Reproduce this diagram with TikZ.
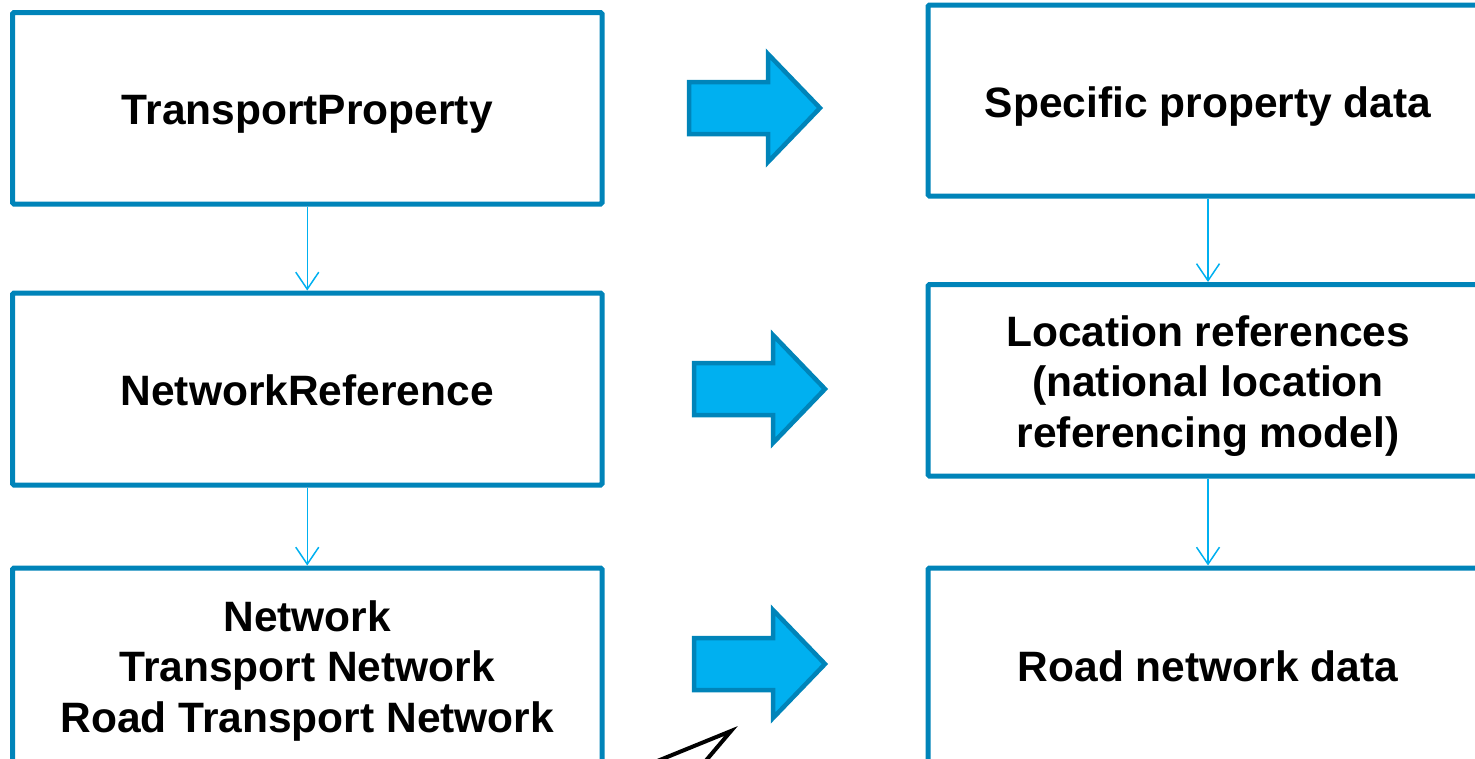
\documentclass[tikz,border=0pt]{standalone}
\usepackage{fontspec}
\setmainfont{Liberation Sans}
\usetikzlibrary{arrows.meta}
\definecolor{boxblue}{RGB}{0,132,185}
\definecolor{fillblue}{RGB}{0,176,240}
\newcommand{\topstrut}{\rule{0pt}{45pt}}
\newcommand{\botstrut}{\rule[-12pt]{0pt}{12pt}}
\tikzset{
  panel/.style={draw=boxblue, line width=5pt, fill=white, rounded corners=1.5pt,
    minimum width=589.5pt, align=center, inner sep=0pt,
    font=\fontsize{42.5}{50.5}\selectfont\bfseries},
  link/.style={draw=fillblue, line width=1.5pt,
    -{Straight Barb[length=17pt,width=23pt,line width=1.5pt]}},
  pics/blockarrow/.style={code={
    \draw[fill=fillblue, draw=boxblue, line width=4.5pt, miter limit=10]
      (0,-26) -- (79,-26) -- (79,-54) -- (131,0) -- (79,54) -- (79,26) -- (0,26) -- cycle;}}
}
\begin{document}
\begin{tikzpicture}[x=1pt, y=-1pt]
  \useasboundingbox (0,0) rectangle (1475,758);
  \clip (0,0) rectangle (1475,758);

  % left column: model classes (struts give every label the same line metrics)
  \node[panel, minimum height=191.5pt] (tp) at (307.25,108.25)
    {\topstrut TransportProperty\botstrut};
  \node[panel, minimum height=192pt] (nr) at (307.25,389)
    {\topstrut NetworkReference\botstrut};
  \node[panel, minimum height=194pt] (net) at (307.25,665)
    {\topstrut Network\\Transport Network\\Road Transport Network\botstrut};

  % right column: data
  \node[panel, minimum width=560pt, minimum height=191pt] (spd) at (1208,100.5)
    {\topstrut Specific property data\botstrut};
  \node[panel, minimum width=560pt, minimum height=191.5pt] (loc) at (1208,380.25)
    {\topstrut Location references\\(national location\\referencing model)\botstrut};
  \node[panel, minimum width=560pt, minimum height=194pt] (road) at (1208,665)
    {\topstrut Road network data\botstrut};

  % links between levels
  \draw[link] (tp.south) -- (nr.north);
  \draw[link] (nr.south) -- (net.north);
  \draw[link] (spd.south) -- (loc.north);
  \draw[link] (loc.south) -- (road.north);

  % correspondence arrows
  \pic at (689,108) {blockarrow};
  \pic at (694,389) {blockarrow};
  \pic at (694,664) {blockarrow};

  % pointer entering from below
  \coordinate (ptip) at (731,731);
  \draw[line width=4pt, line join=miter] (650,764) -- (ptip) -- (703,764);
\end{tikzpicture}
\end{document}
